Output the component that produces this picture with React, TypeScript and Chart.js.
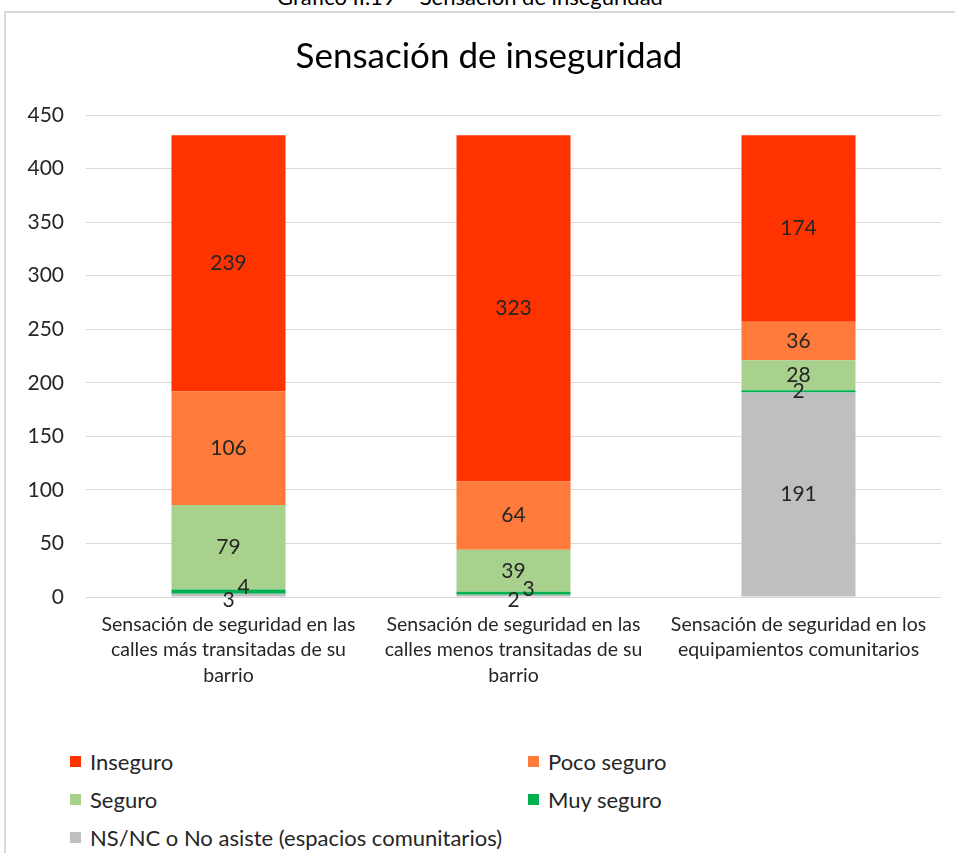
import React, { useEffect, useRef } from "react";
import { Chart, registerables } from "chart.js";

Chart.register(...registerables);

const categories: string[][] = [
  ["Sensación de seguridad en las", "calles más transitadas de su", "barrio"],
  ["Sensación de seguridad en las", "calles menos transitadas de su", "barrio"],
  ["Sensación de seguridad en los", "equipamientos comunitarios"],
];

const nsnc = [3, 2, 191];
const muySeguro = [4, 3, 2];
const seguro = [79, 39, 28];
const pocoSeguro = [106, 64, 36];
const inseguro = [239, 323, 174];

const yTicks = [0, 50, 100, 150, 200, 250, 300, 350, 400, 450];

const seriesNames = [
  "NS/NC o No asiste (espacios comunitarios)",
  "Muy seguro",
  "Seguro",
  "Poco seguro",
  "Inseguro",
];
const seriesColors = ["#BFBFBF", "#00B050", "#A9D18E", "#FF7B3B", "#FF3300"];
const legendOrder = [4, 3, 2, 1, 0];

const FONT = "Lato, 'Open Sans', sans-serif";
const TEXT = "#262626";

const labelPlugin = {
  id: "stackLabels",
  afterDatasetsDraw(chart: any) {
    const ctx = chart.ctx;
    const n = chart.data.labels.length;
    ctx.save();
    ctx.font = `21px ${FONT}`;
    ctx.fillStyle = TEXT;
    ctx.textAlign = "center";
    ctx.textBaseline = "middle";
    for (let i = 0; i < n; i++) {
      const items: { x: number; y: number; t: string }[] = [];
      chart.data.datasets.forEach((ds: any, di: number) => {
        const el = chart.getDatasetMeta(di).data[i];
        const v = ds.data[i];
        if (!el || !v) return;
        items.push({ x: el.x, y: (el.y + el.base) / 2, t: String(v) });
      });
      for (let k = 1; k < items.length; k++) {
        if (items[k - 1].y - items[k].y < 12) {
          items[k - 1].y += 5;
          items[k].x += 15;
          items[k].y -= 4;
        }
      }
      items.forEach((it) => ctx.fillText(it.t, it.x, it.y));
    }
    ctx.restore();
  },
};

export default function App() {
  const ref = useRef<HTMLCanvasElement | null>(null);
  useEffect(() => {
    if (!ref.current) return;
    const data = [nsnc, muySeguro, seguro, pocoSeguro, inseguro];
    const chart = new Chart(ref.current, {
      type: "bar",
      data: {
        labels: categories as any,
        datasets: data.map((d, i) => ({
          label: seriesNames[i],
          data: d,
          backgroundColor: seriesColors[i],
          borderWidth: 0,
          barPercentage: 0.4,
          categoryPercentage: 1,
        })),
      },
      options: {
        responsive: false,
        animation: false,
        layout: { padding: { left: 0, right: 4, top: 0, bottom: 0 } },
        plugins: {
          legend: { display: false },
          tooltip: { enabled: false },
          title: {
            display: true,
            text: "Sensación de inseguridad",
            color: "#000",
            font: { family: FONT, size: 35, weight: "normal" },
            padding: { top: 22, bottom: 37 },
          },
        },
        scales: {
          x: {
            stacked: true,
            grid: { display: false },
            border: { display: false },
            ticks: {
              color: TEXT,
              font: { family: FONT, size: 19.5, lineHeight: 1.3 },
              padding: 7,
              maxRotation: 0,
              autoSkip: false,
            },
            afterFit: (s: any) => {
              s.height = 103;
            },
          },
          y: {
            stacked: true,
            min: 0,
            max: 450,
            afterBuildTicks: (s: any) => {
              s.ticks = yTicks.map((v) => ({ value: v }));
            },
            grid: { color: "#D9D9D9", lineWidth: 1, drawTicks: false },
            border: { display: false },
            ticks: {
              color: TEXT,
              font: { family: FONT, size: 21 },
              padding: 22,
            },
            afterFit: (s: any) => {
              s.width = 80;
            },
          },
          yRight: {
            position: "right",
            display: true,
            min: 0,
            max: 450,
            grid: { display: false, drawTicks: false },
            border: { display: false },
            ticks: { display: false },
            afterFit: (s: any) => {
              s.width = 31;
            },
          },
        },
      },
      plugins: [labelPlugin],
    });
    return () => chart.destroy();
  }, []);

  const legendPos = [
    { left: 70, top: 761 },
    { left: 528, top: 761 },
    { left: 70, top: 799 },
    { left: 528, top: 799 },
    { left: 70, top: 837 },
  ];

  return (
    <div
      style={{
        position: "absolute",
        left: 0,
        top: 0,
        width: 955,
        height: 853,
        overflow: "hidden",
        background: "#fff",
        fontFamily: FONT,
      }}
    >
      <div
        style={{
          position: "absolute",
          left: 0,
          width: 940,
          top: -17,
          textAlign: "center",
          fontSize: 22,
          color: "#000",
        }}
      >
        Gráfico II.19 – Sensación de inseguridad
      </div>
      <div
        style={{
          position: "absolute",
          left: 4,
          top: 11,
          width: 1000,
          height: 900,
          border: "2px solid #D9D9D9",
        }}
      />
      <canvas
        ref={ref}
        width={970}
        height={686}
        style={{ position: "absolute", left: 6, top: 14, width: 970, height: 686 }}
      />
      {legendOrder.map((si, k) => (
        <div
          key={si}
          style={{
            position: "absolute",
            left: legendPos[k].left,
            top: legendPos[k].top - 13,
            height: 26,
            display: "flex",
            alignItems: "center",
            fontSize: 22,
            color: TEXT,
            whiteSpace: "nowrap",
          }}
        >
          <span
            style={{
              display: "inline-block",
              width: 11,
              height: 11,
              background: seriesColors[si],
              marginRight: 9,
            }}
          />
          {seriesNames[si]}
        </div>
      ))}
    </div>
  );
}
